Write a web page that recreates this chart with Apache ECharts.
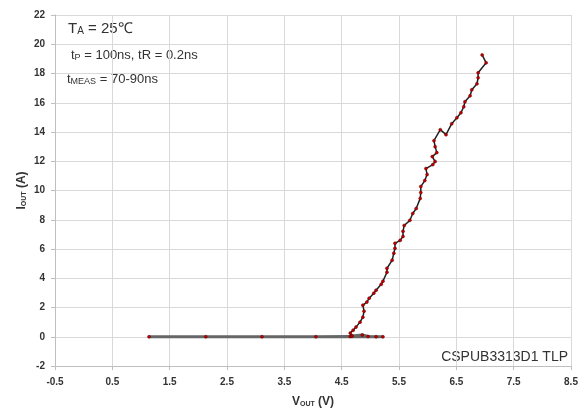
<!DOCTYPE html>
<html>
<head>
<meta charset="utf-8">
<script src="https://cdn.jsdelivr.net/npm/echarts@6/dist/echarts.min.js"></script>
<style>
  html, body { margin: 0; padding: 0; background: #fff; }
  #main { width: 587px; height: 413px; }
</style>
</head>
<body>
<div id="main"></div>
<script>
// x axis ticks (V)
var xTicks = [-0.5, 0.5, 1.5, 2.5, 3.5, 4.5, 5.5, 6.5, 7.5, 8.5];
// flat part before turn-on (V, A)
var flatV = [1.14, 2.13, 3.11, 4.05, 4.65, 5.22, 5.10, 4.96, 4.86, 4.68];
var flatI = [0, 0, 0, 0, 0.02, 0, 0, 0.02, 0.12, 0.05];
// rising part of the TLP curve
var riseV = [4.68, 4.65, 4.70, 4.75, 4.82, 4.87, 4.89, 4.87, 4.94, 4.98, 5.06, 5.10, 5.19, 5.22,
  5.29, 5.29, 5.38, 5.41, 5.43, 5.43, 5.52, 5.57, 5.57, 5.59, 5.69, 5.74, 5.80, 5.87, 5.88, 5.88,
  5.95, 5.99, 5.97, 6.09, 6.13, 6.08, 6.16, 6.13, 6.11, 6.22, 6.32, 6.42, 6.51, 6.58, 6.63, 6.65,
  6.74, 6.77, 6.86, 6.88, 6.88, 7.02, 6.95];
var riseI = [0.05, 0.25, 0.45, 0.66, 1.00, 1.34, 1.75, 2.16, 2.37, 2.64, 2.98, 3.18, 3.59, 3.80,
  4.41, 4.68, 5.23, 5.71, 6.05, 6.39, 6.59, 6.86, 7.21, 7.61, 7.96, 8.43, 8.77, 9.46, 9.86, 10.27,
  10.68, 11.09, 11.50, 11.77, 11.98, 12.32, 12.59, 13.00, 13.41, 14.16, 13.82, 14.57, 14.98, 15.32,
  15.73, 16.07, 16.48, 16.89, 17.30, 17.71, 18.05, 18.73, 19.27];

function pairs(xs, ys) {
  return xs.map(function (x, i) { return [x, ys[i]]; });
}

var myChart = echarts.init(document.getElementById('main'));

var tickFont = { color: '#333', fontSize: 10, fontWeight: 'bold', fontFamily: 'Liberation Sans' };
var gridLine = { show: true, lineStyle: { color: '#d9d9d9', width: 1 } };

var option = {
  animation: false,
  backgroundColor: '#fff',
  grid: { left: 55, right: 16, top: 15, bottom: 46 },
  xAxis: {
    type: 'value', min: -0.5, max: 8.5, interval: 1,
    axisLine: { show: true, onZero: false, lineStyle: { color: '#bfbfbf' } },
    axisTick: { show: true, length: 4, lineStyle: { color: '#bfbfbf' } },
    axisLabel: Object.assign({ margin: 11 }, tickFont),
    splitLine: gridLine,
    name: '{b|V}{s|OUT}{b| (V)}',
    nameLocation: 'middle', nameGap: 30, nameMoveOverlap: false,
    nameTextStyle: {
      rich: {
        b: { fontSize: 12, fontWeight: 'bold', color: '#333', fontFamily: 'Liberation Sans' },
        s: { fontSize: 7, fontWeight: 'bold', color: '#333', fontFamily: 'Liberation Sans', verticalAlign: 'bottom' }
      }
    }
  },
  yAxis: {
    type: 'value', min: -2, max: 22, interval: 2,
    axisLine: { show: true, onZero: false, lineStyle: { color: '#bfbfbf' } },
    axisTick: { show: true, length: 4, lineStyle: { color: '#bfbfbf' } },
    axisLabel: Object.assign({ margin: 10 }, tickFont),
    splitLine: gridLine,
    name: '{b|I}{s|OUT}{b| (A)}',
    nameLocation: 'middle', nameGap: 27, nameMoveOverlap: false,
    nameTextStyle: {
      rich: {
        b: { fontSize: 12, fontWeight: 'bold', color: '#333', fontFamily: 'Liberation Sans' },
        s: { fontSize: 7, fontWeight: 'bold', color: '#333', fontFamily: 'Liberation Sans', verticalAlign: 'bottom' }
      }
    }
  },
  graphic: [
    {
      type: 'text', left: 68, top: 21,
      style: {
        text: '{b|T}{s|A}{b| = 25℃}',
        rich: {
          b: { fontSize: 15, fill: '#333', fontFamily: 'Liberation Sans' },
          s: { fontSize: 10, fill: '#333', fontFamily: 'Liberation Sans', verticalAlign: 'bottom' }
        }
      }
    },
    {
      type: 'text', left: 71, top: 49,
      style: {
        text: '{b|t}{s|P}{b| = 100ns, tR = 0.2ns}',
        rich: {
          b: { fontSize: 13, fill: '#333', fontFamily: 'Liberation Sans' },
          s: { fontSize: 9, fill: '#333', fontFamily: 'Liberation Sans', verticalAlign: 'bottom' }
        }
      }
    },
    {
      type: 'text', left: 67, top: 73,
      style: {
        text: '{b|t}{s|MEAS}{b| = 70-90ns}',
        rich: {
          b: { fontSize: 13, fill: '#333', fontFamily: 'Liberation Sans' },
          s: { fontSize: 9, fill: '#333', fontFamily: 'Liberation Sans', verticalAlign: 'bottom' }
        }
      }
    },
    {
      type: 'text', right: 19, top: 350,
      style: { text: 'CSPUB3313D1 TLP', fontSize: 14, fill: '#333', fontFamily: 'Liberation Sans' }
    }
  ],
  series: [
    {
      type: 'line', data: pairs(flatV, flatI),
      symbol: 'circle', symbolSize: 3,
      lineStyle: { color: '#666', width: 3 },
      itemStyle: { color: '#c00000', borderColor: '#600', borderWidth: 0.5 }
    },
    {
      type: 'line', data: pairs(riseV, riseI),
      symbol: 'circle', symbolSize: 3,
      lineStyle: { color: '#222', width: 1.5 },
      itemStyle: { color: '#c00000', borderColor: '#600', borderWidth: 0.5 }
    }
  ]
};

myChart.setOption(option);
</script>
</body>
</html>
